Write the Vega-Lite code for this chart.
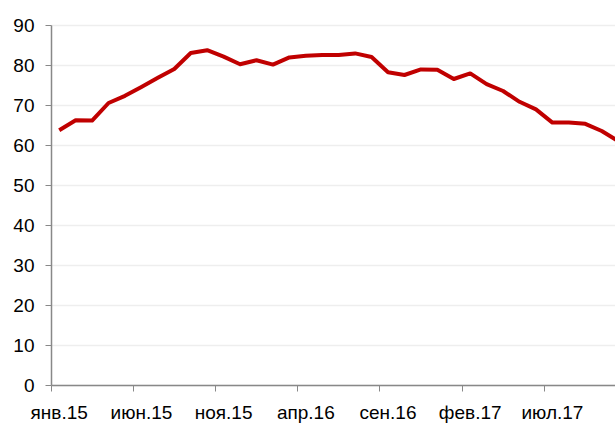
{
  "$schema": "https://vega.github.io/schema/vega-lite/v6.json",
  "autosize": {"type": "none"},
  "width": 564,
  "height": 360,
  "padding": {"left": 51, "top": 25, "right": 0, "bottom": 41},
  "background": "white",
  "config": {
    "view": {"stroke": null},
    "font": "Liberation Sans"
  },
  "data": {
    "values": [
      {"month": "янв.15", "value": 63.7},
      {"month": "фев.15", "value": 66.2},
      {"month": "мар.15", "value": 66.1},
      {"month": "апр.15", "value": 70.5},
      {"month": "май.15", "value": 72.3},
      {"month": "июн.15", "value": 74.5},
      {"month": "июл.15", "value": 76.8},
      {"month": "авг.15", "value": 79.0},
      {"month": "сен.15", "value": 83.0},
      {"month": "окт.15", "value": 83.7},
      {"month": "ноя.15", "value": 82.1},
      {"month": "дек.15", "value": 80.2},
      {"month": "янв.16", "value": 81.2},
      {"month": "фев.16", "value": 80.1},
      {"month": "мар.16", "value": 81.9},
      {"month": "апр.16", "value": 82.3},
      {"month": "май.16", "value": 82.5},
      {"month": "июн.16", "value": 82.5},
      {"month": "июл.16", "value": 82.9},
      {"month": "авг.16", "value": 82.0},
      {"month": "сен.16", "value": 78.2},
      {"month": "окт.16", "value": 77.5},
      {"month": "ноя.16", "value": 78.9},
      {"month": "дек.16", "value": 78.8},
      {"month": "янв.17", "value": 76.5},
      {"month": "фев.17", "value": 77.9},
      {"month": "мар.17", "value": 75.2},
      {"month": "апр.17", "value": 73.5},
      {"month": "май.17", "value": 70.8},
      {"month": "июн.17", "value": 68.9},
      {"month": "июл.17", "value": 65.6},
      {"month": "авг.17", "value": 65.6},
      {"month": "сен.17", "value": 65.3},
      {"month": "окт.17", "value": 63.5},
      {"month": "ноя.17", "value": 61.0}
    ]
  },
  "mark": {"type": "line", "color": "#c00000", "strokeWidth": 4, "clip": true, "strokeJoin": "round"},
  "encoding": {
    "x": {
      "field": "month",
      "type": "ordinal",
      "sort": null,
      "scale": {"type": "band", "paddingInner": 0, "paddingOuter": 0, "range": [0, 575.4]},
      "axis": {
        "title": null,
        "values": ["янв.15", "июн.15", "ноя.15", "апр.16", "сен.16", "фев.17", "июл.17"],
        "bandPosition": 0,
        "labelAngle": 0,
        "labelFontSize": 19,
        "labelColor": "#000000",
        "labelPadding": 12,
        "tickSize": 6,
        "tickColor": "#888888",
        "domainColor": "#888888",
        "domainWidth": 1.5,
        "tickWidth": 1,
        "grid": false
      }
    },
    "y": {
      "field": "value",
      "type": "quantitative",
      "scale": {"domain": [0, 90], "nice": false},
      "axis": {
        "title": null,
        "values": [0, 10, 20, 30, 40, 50, 60, 70, 80, 90],
        "labelFontSize": 19,
        "labelColor": "#000000",
        "labelPadding": 11,
        "tickSize": 6,
        "tickColor": "#888888",
        "domainColor": "#888888",
        "domainWidth": 1.5,
        "grid": true,
        "gridColor": "#eeeeee",
        "gridWidth": 1.5
      }
    }
  }
}
